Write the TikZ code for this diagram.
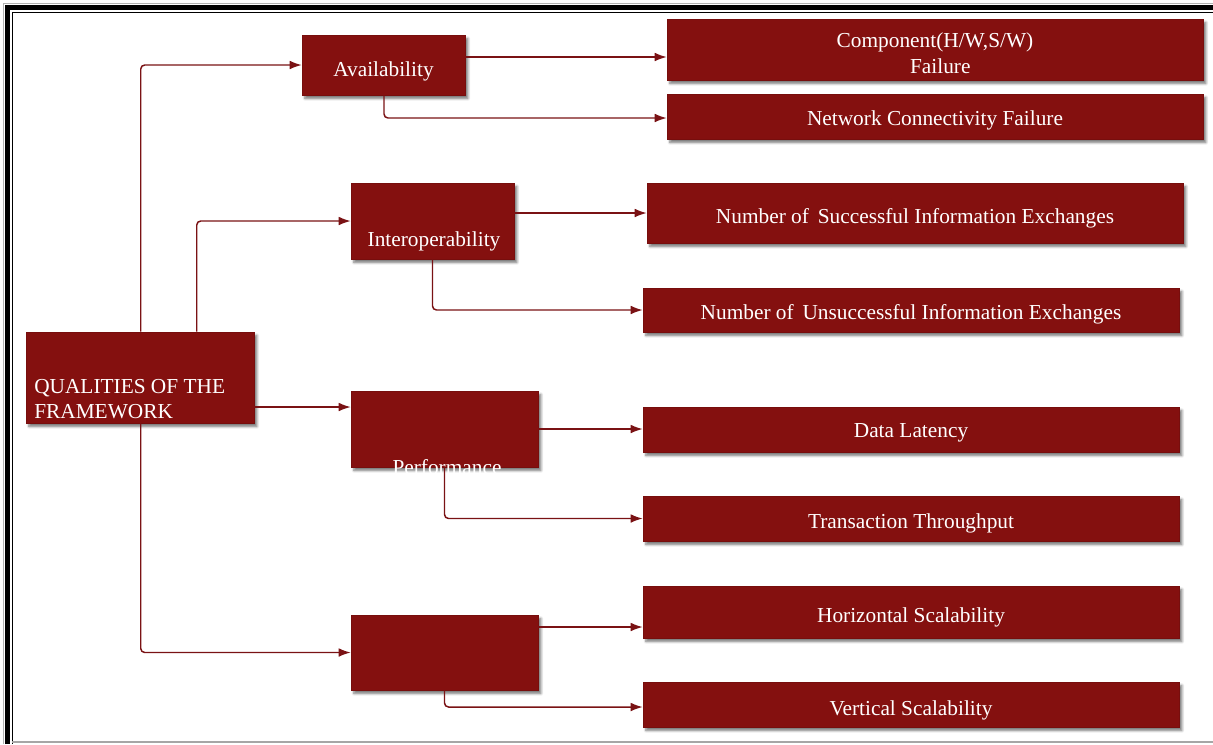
\documentclass[tikz,border=0pt]{standalone}
\usepackage{fontspec}
\setmainfont{Liberation Serif}
\usetikzlibrary{arrows.meta,calc,shadows.blur}
\definecolor{boxred}{HTML}{84100F}
\definecolor{linkred}{HTML}{7A1214}
% set a line a little below the box centre without changing its size
\newcommand\lowline[2][3.8pt]{\raisebox{-#1}[\height][\depth]{#2}}
\tikzset{
  box/.style={rectangle, fill=boxred, draw=boxred!90!black, line width=0.4pt,
    text=white, inner sep=0pt, align=center,
    font=\fontsize{16}{19.5}\selectfont,
    blur shadow={shadow xshift=2.2pt, shadow yshift=-2.6pt, shadow blur steps=6, shadow opacity=55}},
  lbl/.style={text=white, inner sep=0pt, font=\fontsize{16}{19}\selectfont},
  conn/.style={draw=linkred, line width=1.1pt, rounded corners=3pt,
    -{Latex[length=9pt,width=6.5pt]}},
}
\begin{document}
\begin{tikzpicture}[x=0.75pt,y=-0.75pt]
\useasboundingbox (0,0) rectangle (1213,744);

% page frame
\draw[gray!60, line width=0.5pt] (3.5,744) -- (3.5,3.5) -- (1213,3.5);
\draw[black, line width=3.75pt] (7.5,744) -- (7.5,7.5) -- (1213,7.5);
\draw[black, line width=0.8pt] (12.5,744) -- (12.5,12.5) -- (1213,12.5);
\draw[gray!70, line width=0.9pt] (12,742) -- (1213,742);

% root and the four qualities
\node[box, minimum width=171pt, minimum height=68.25pt] (Q) at (140,377.5) {};
\node[lbl, align=left, anchor=south west] (Qt) at (34,419) {QUALITIES OF THE\\FRAMEWORK};

\node[box, minimum width=122.25pt, minimum height=45pt] (A) at (383.5,65) {\lowline[4.8pt]{Availability}};
\node[box, minimum width=122.25pt, minimum height=57pt] (I) at (432.5,221) {};
\node[lbl] (It) at (434,241.5) {Interoperability};
\node[box, minimum width=140.25pt, minimum height=57pt] (P) at (444.5,429) {};
\node[lbl] (Pt) at (447,467) {Performance};
\node[box, minimum width=140.25pt, minimum height=56.25pt] (S) at (444.5,652.5) {};

% measures
\node[box, minimum width=402pt, minimum height=45.75pt] (C) at (935,49.5)
  {\lowline[3pt]{Component(H/W,S/W)}\\\lowline[3pt]{\hspace*{8pt}Failure}};
\node[box, minimum width=402pt, minimum height=33.75pt] (N) at (935,116.5) {\lowline[3pt]{Network Connectivity Failure}};
\node[box, minimum width=402pt, minimum height=45pt] (Su) at (915,213) {\lowline{Number of\ \,Successful Information Exchanges}};
\node[box, minimum width=402pt, minimum height=33pt] (U) at (911,310) {\lowline[3pt]{Number of\ \,Unsuccessful Information Exchanges}};
\node[box, minimum width=402pt, minimum height=33.75pt] (D) at (911,429.5) {\lowline[2.5pt]{Data Latency}};
\node[box, minimum width=402pt, minimum height=33.75pt] (T) at (911,518.5) {\lowline{Transaction Throughput}};
\node[box, minimum width=402pt, minimum height=39pt] (H) at (911,612) {\lowline{Horizontal Scalability}};
\node[box, minimum width=402pt, minimum height=33.75pt] (V) at (911,704.5) {\lowline[4.3pt]{Vertical Scalability}};

% helper rows for the straight links
\coordinate (rAC) at (0,57);
\coordinate (rIS) at (0,213);
\coordinate (rQP) at (0,407);
\coordinate (rSH) at (0,627);

% root to qualities
\draw[conn] ($(Q.north west)+(115,0)$) |- (A.west);
\draw[conn] ($(Q.north west)+(171,0)$) |- (I.west);
\draw[conn] (Q.east |- rQP) -- (P.west |- rQP);
\draw[conn] ($(Q.south west)+(115,0)$) |- (S.west);

% qualities to measures
\draw[conn] (A.east |- rAC) -- (C.west |- rAC);
\draw[conn] ($(A.south)+(0.5,0)$) |- ($(N.west)+(0,1.5)$);
\draw[conn] (I.east |- rIS) -- (Su.west |- rIS);
\draw[conn] (I.south) |- (U.west);
\draw[conn] (P.east) -- (D.west |- P.east);
\draw[conn] (P.south) |- (T.west);
\draw[conn] (S.east |- rSH) -- (H.west |- rSH);
\draw[conn] (S.south) |- ($(V.west)+(0,2.5)$);
\end{tikzpicture}
\end{document}
